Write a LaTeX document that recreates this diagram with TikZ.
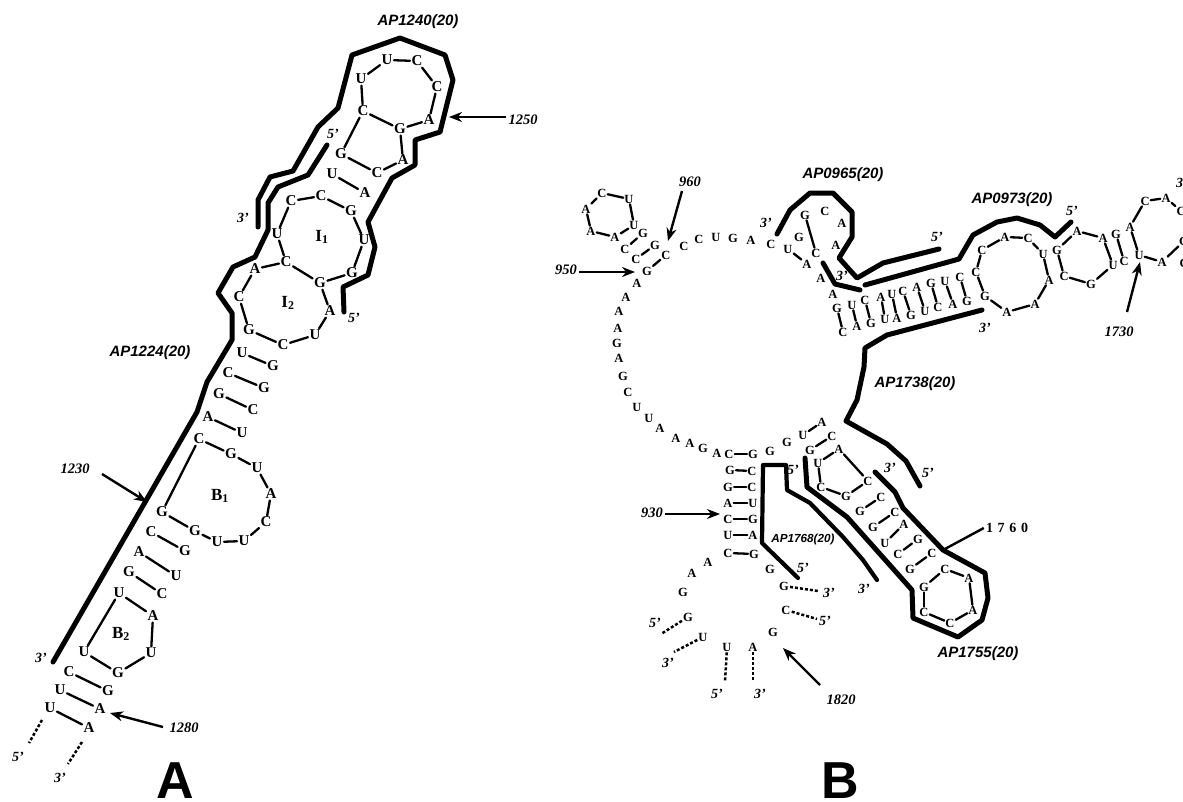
\documentclass[tikz,border=0pt]{standalone}
\usepackage{fontspec}
\setmainfont{Liberation Serif}
\setsansfont{Liberation Sans}
\usetikzlibrary{arrows.meta}
\tikzset{
 nta/.style={font=\fontsize{15}{15}\selectfont\bfseries,inner sep=1.6pt,outer sep=0pt},
 ntb/.style={font=\fontsize{12.5}{12.5}\selectfont\bfseries,inner sep=1.2pt,outer sep=0pt},
 bond/.style={line width=2.3pt,line cap=round},
 probe/.style={line width=5pt,line join=round,line cap=round},
 pointer/.style={line width=2.4pt,-{Stealth[length=13pt,width=10pt]}},
 tail/.style={line width=2.5pt,dash pattern=on 3pt off 2pt},
 prime/.style={font=\fontsize{14}{14}\selectfont\bfseries\itshape,inner sep=0pt},
 num/.style={font=\fontsize{14.5}{14.5}\selectfont\bfseries\itshape,inner sep=2pt},
 aplabel/.style={font=\sffamily\fontsize{15}{15}\selectfont\bfseries\itshape,inner sep=0pt},
 region/.style={font=\fontsize{17}{17}\selectfont\bfseries,inner sep=0pt},
 big/.style={font=\sffamily\fontsize{52}{52}\selectfont\bfseries,inner sep=0pt}
}
\def\NA#1#2#3#4{\node[nta] (#1) at (#2,#3) {#4};}
\def\NB#1#2#3#4{\node[ntb] (#1) at (#2,#3) {#4};}
\begin{document}
\begin{tikzpicture}[x=1pt,y=-1pt]
\useasboundingbox (0,0) rectangle (1183,801);
% ---------- Panel A letters
\NA{a1}{361}{79}{U}\NA{a2}{387}{60}{U}\NA{a3}{417}{61}{C}\NA{a4}{437}{87}{C}\NA{a5}{429}{120}{A}\NA{a6}{400}{129}{G}\NA{a7}{363}{111}{C}
\NA{a8}{341}{154}{G}\NA{a9}{377}{173}{C}\NA{a10}{403}{160}{A}\NA{a11}{332}{174}{U}\NA{a12}{365}{193}{A}
\NA{a13}{291}{201}{C}\NA{a14}{321}{196}{C}\NA{a15}{351}{211}{G}\NA{a16}{364}{240}{U}\NA{a17}{352}{273}{G}\NA{a18}{320}{283}{G}\NA{a19}{286}{262}{C}\NA{a20}{277}{234}{U}
\NA{a21}{255}{269}{A}\NA{a22}{239}{297}{C}\NA{a23}{249}{330}{G}\NA{a24}{283}{345}{C}\NA{a25}{315}{335}{U}\NA{a26}{330}{311}{A}
\NA{a27}{242}{353}{U}\NA{a28}{273}{366}{G}\NA{a29}{228}{373}{C}\NA{a30}{264}{388}{G}\NA{a31}{219}{394}{G}\NA{a32}{253}{410}{C}\NA{a33}{208}{417}{A}\NA{a34}{242}{433}{U}
\NA{a35}{199}{439}{C}\NA{a36}{231}{454}{G}\NA{a37}{257}{468}{U}\NA{a38}{271}{494}{A}\NA{a39}{266}{522}{C}\NA{a40}{244}{541}{U}\NA{a41}{217}{542}{U}\NA{a42}{195}{531}{G}\NA{a43}{162}{512}{G}
\NA{a44}{151}{532}{C}\NA{a45}{185}{551}{G}\NA{a46}{139}{552}{A}\NA{a47}{176}{576}{U}\NA{a48}{129}{572}{G}\NA{a49}{162}{594}{C}\NA{a50}{119}{593}{U}\NA{a51}{153}{616}{A}
\NA{a52}{151}{653}{U}\NA{a53}{118}{673}{G}\NA{a54}{84}{652}{U}\NA{a55}{69}{672}{C}\NA{a56}{108}{691}{G}\NA{a57}{60}{690}{U}\NA{a58}{100}{709}{A}\NA{a59}{50}{708}{U}\NA{a60}{89}{728}{A}
\foreach \p/\q in {a1/a2,a2/a3,a3/a4,a4/a5,a5/a6,a6/a7,a7/a1,a6/a10,a10/a9,a9/a8,a8/a7,a11/a12,a13/a14,a14/a15,a15/a16,a16/a17,a17/a18,a18/a19,a19/a20,a20/a13,a19/a21,a21/a22,a22/a23,a23/a24,a24/a25,a25/a26,a26/a18,a27/a28,a29/a30,a31/a32,a33/a34,a35/a36,a36/a37,a37/a38,a38/a39,a39/a40,a40/a41,a41/a42,a42/a43,a43/a35,a44/a45,a46/a47,a48/a49,a50/a51,a51/a52,a52/a53,a53/a54,a54/a50,a55/a56,a57/a58,a59/a60}
 \draw[bond] (\p) -- (\q);
% Panel A regions and labels
\node[region] (i1) at (322,237) {I\textsubscript{1}};
\node[region] (i2) at (288,303) {I\textsubscript{2}};
\node[region] (b1) at (220,496) {B\textsubscript{1}};
\node[region] (b2) at (121,634) {B\textsubscript{2}};
\node[aplabel] (lap1240) at (418,22) {AP1240(20)};
\node[aplabel] (lap1224) at (150,353) {AP1224(20)};
\node[prime] (pa1) at (243,218) {3'};
\node[prime] (pa2) at (333,134) {5'};
\node[prime] (pa3) at (354,318) {5'};
\node[prime] (pa4) at (41,658) {3'};
\node[prime] (pa5) at (18,757) {5'};
\node[prime] (pa6) at (60,778) {3'};
% Panel A probes
\draw[probe] (258,227)--(258,200)--(270,177)--(293,171)--(318,127)--(338,108)--(352,55)--(400,38)--(445,55)--(453,80)--(440,132)--(415,140)--(415,165)--(392,178)--(368,222)--(375,247)--(368,275)--(343,287)--(344,312);
\draw[probe] (327,145)--(308,175)--(278,187)--(268,203)--(268,230)--(255,257)--(233,267)--(218,293)--(232,313)--(232,340)--(207,382)--(197,412)--(53,662);
% Panel A arrows
\node[num] (n1250) at (523,120) {1250};
\coordinate (t1250) at (449,117);
\draw[pointer] (n1250.west |- t1250) -- (t1250);
\node[num] (n1230) at (75,469) {1230};
\coordinate (s1230) at (102,474);\coordinate (t1230) at (147,502);
\draw[pointer] (s1230) -- (t1230);
\node[num] (n1280) at (184,728) {1280};
\coordinate (s1280) at (163,727);\coordinate (t1280) at (110,713);
\draw[pointer] (s1280) -- (t1280);
\coordinate (ta1) at (29,743);\coordinate (ta2) at (68,764);
\draw[tail] (a59) ++(-8,12) -- (ta1);
\draw[tail] (a60) ++(-7,14) -- (ta2);
\node[big] (bigA) at (175.5,780.5) {A};
% ---------- Panel B letters
\NB{h1}{602}{193}{C}\NB{h2}{629}{199}{U}\NB{h3}{634}{225}{U}\NB{h4}{615}{237}{A}\NB{h5}{591}{231}{A}\NB{h6}{586}{209}{A}
\NB{h7}{643}{233}{G}\NB{h8}{625}{249}{C}\NB{h9}{655}{245}{G}\NB{h10}{636}{259}{C}\NB{h11}{666}{255}{C}\NB{h12}{647}{271}{G}
\NB{r1}{637}{283}{A}\NB{r2}{626}{297}{A}\NB{r3}{619}{311}{A}\NB{r4}{618}{328}{A}\NB{r5}{617}{343}{G}\NB{r6}{619}{358}{A}\NB{r7}{623}{376}{G}\NB{r8}{628}{392}{C}\NB{r9}{637}{407}{U}\NB{r10}{649}{418}{U}\NB{r11}{660}{428}{A}\NB{r12}{676}{438}{A}\NB{r13}{690}{443}{A}\NB{r14}{703}{448}{G}\NB{r15}{717}{453}{A}
\NB{t1}{684}{246}{C}\NB{t2}{699}{239}{C}\NB{t3}{716}{237}{U}\NB{t4}{733}{238}{G}\NB{t5}{751}{240}{A}\NB{t6}{771}{244}{C}
\NB{t7}{788}{249}{U}\NB{t8}{807}{264}{A}\NB{t9}{799}{237}{G}\NB{t10}{816}{253}{C}\NB{t11}{821}{278}{A}\NB{t12}{833}{294}{A}
\NB{u1}{805}{215}{G}\NB{u2}{825}{211}{C}\NB{u3}{842}{223}{A}\NB{u4}{836}{245}{A}
% helix
\NB{ht1}{837}{308}{G}\NB{ht2}{852}{305}{U}\NB{ht3}{865}{300}{C}\NB{ht4}{881}{297}{A}\NB{ht5}{892}{294}{U}\NB{ht6}{903}{291}{C}\NB{ht7}{917}{287}{A}\NB{ht8}{931}{283}{G}\NB{ht9}{945}{281}{U}\NB{ht10}{960}{277}{C}
\NB{hb1}{843}{332}{C}\NB{hb2}{857}{326}{A}\NB{hb3}{871}{323}{G}\NB{hb4}{885}{319}{U}\NB{hb5}{897}{318}{A}\NB{hb6}{911}{315}{G}\NB{hb7}{925}{311}{U}\NB{hb8}{938}{307}{C}\NB{hb9}{953}{304}{A}\NB{hb10}{967}{301}{G}
% loop right
\NB{l1}{976}{272}{C}\NB{l2}{982}{250}{C}\NB{l3}{1005}{237}{A}\NB{l4}{1028}{238}{C}\NB{l5}{1043}{254}{U}\NB{l6}{1049}{280}{A}\NB{l7}{1035}{304}{A}\NB{l8}{1007}{312}{A}\NB{l9}{985}{296}{G}
\NB{m1}{1057}{250}{G}\NB{m2}{1077}{231}{A}\NB{m3}{1103}{238}{A}\NB{m4}{1113}{265}{U}\NB{m5}{1091}{284}{G}\NB{m6}{1064}{276}{C}
\NB{m7}{1116}{234}{G}\NB{m8}{1124}{261}{C}\NB{m9}{1130}{227}{A}\NB{m10}{1139}{255}{U}\NB{m11}{1145}{201}{C}\NB{m12}{1166}{198}{A}\NB{m13}{1181}{211}{C}\NB{m14}{1162}{262}{A}\NB{m15}{1184}{241}{G}\NB{m16}{1184}{263}{C}
% lower right arm
\NB{c1}{803}{435}{U}\NB{c2}{822}{422}{A}\NB{c3}{832}{436}{C}\NB{c4}{810}{450}{G}\NB{c5}{839}{449}{A}\NB{c6}{868}{481}{C}\NB{c7}{818}{463}{U}\NB{c8}{821}{487}{C}\NB{c9}{846}{496}{G}
\NB{c10}{881}{497}{C}\NB{c11}{860}{511}{G}\NB{c12}{895}{512}{C}\NB{c13}{873}{527}{G}\NB{c14}{904}{524}{A}\NB{c15}{885}{543}{U}\NB{c16}{918}{539}{G}\NB{c17}{898}{554}{C}\NB{c18}{932}{553}{C}\NB{c19}{910}{569}{G}
\NB{c20}{945}{569}{C}\NB{c21}{969}{578}{A}\NB{c22}{973}{610}{A}\NB{c23}{950}{623}{C}\NB{c24}{924}{612}{C}\NB{c25}{924}{587}{G}
% stem
\NB{s1}{729}{454}{C}\NB{s2}{753}{454}{G}\NB{s3}{730}{470}{G}\NB{s4}{752}{471}{C}\NB{s5}{728}{487}{G}\NB{s6}{752}{487}{C}\NB{s7}{728}{503}{A}\NB{s8}{753}{503}{U}\NB{s9}{728}{519}{C}\NB{s10}{753}{519}{G}\NB{s11}{728}{535}{U}\NB{s12}{753}{535}{A}\NB{s13}{728}{553}{C}\NB{s14}{754}{554}{G}
\NB{g1}{770}{451}{G}\NB{g2}{787}{442}{G}
\NB{e1}{708}{562}{A}\NB{e2}{692}{573}{A}\NB{e3}{683}{592}{G}\NB{e4}{688}{617}{G}\NB{e5}{703}{637}{U}\NB{e6}{727}{647}{U}\NB{e7}{753}{647}{A}\NB{e8}{773}{632}{G}\NB{e9}{786}{610}{C}\NB{e10}{784}{586}{G}\NB{e11}{770}{569}{G}
\foreach \p/\q in {h1/h2,h2/h3,h3/h4,h4/h5,h5/h6,h6/h1,h7/h8,h9/h10,h11/h12,t7/t8,u1/t10,ht1/hb1,ht2/hb2,ht3/hb3,ht4/hb4,ht5/hb5,ht6/hb6,ht7/hb7,ht8/hb8,ht9/hb9,ht10/hb10,l1/l2,l2/l3,l3/l4,l4/l5,l5/l6,l6/l7,l7/l8,l8/l9,l9/l1,m1/m2,m2/m3,m3/m4,m4/m5,m5/m6,m6/m1,m7/m8,m9/m10,m9/m11,m11/m12,m12/m13,m10/m14,m14/m15,c1/c2,c4/c3,c5/c6,c5/c7,c7/c8,c8/c9,c9/c6,c11/c10,c13/c12,c15/c14,c17/c16,c19/c18,c25/c20,c20/c21,c21/c22,c22/c23,c23/c24,c24/c25,s1/s2,s3/s4,s5/s6,s7/s8,s9/s10,s11/s12,s13/s14}
 \draw[bond] (\p) -- (\q);
% Panel B probes
\draw[probe] (777,234)--(790,210)--(810,193)--(833,193)--(852,212)--(852,237)--(839,258)--(857,278)--(883,263)--(939,249);
\draw[probe] (823,263)--(835,284)--(860,290);
\draw[probe] (865,285)--(959,259)--(973,235)--(997,222)--(1017,218)--(1040,225)--(1055,237)--(1071,222);
\draw[probe] (982,310)--(887,335)--(865,348)--(864,367)--(857,400)--(846,421)--(887,444)--(906,461)--(920,486);
\draw[probe] (875,472)--(895,492)--(903,508)--(943,550)--(985,573)--(988,598)--(982,620)--(958,637)--(913,618)--(912,590)--(847,517)--(807,487)--(805,458);
\draw[probe,line width=4.2pt] (798,578)--(762,543)--(763,465)--(786,465)--(787,490)--(810,503)--(843,537)--(863,560)--(877,580);
% Panel B labels
\node[aplabel] (lap0965) at (843,175) {AP0965(20)};
\node[aplabel] (lap0973) at (1012,200) {AP0973(20)};
\node[aplabel] (lap1738) at (915,384) {AP1738(20)};
\node[aplabel] (lap1755) at (978,654) {AP1755(20)};
\node[aplabel,font=\sffamily\fontsize{11.7}{11.7}\selectfont\bfseries\itshape] (lap1768) at (803,539) {AP1768(20)};
\foreach \nm/\xx/\yy/\tx in {q1/766/223/3',q2/842/276/3',q3/937/237/5',q4/985/328/3',q5/1072/211/5',q6/1182/183/3',q7/793/470/5',q8/803/568/5',q9/829/593/3',q10/825/621/5',q11/864/589/3',q12/890/468/3',q13/928/473/5',q14/655/623/5',q15/668/663/3',q16/717/694/5',q17/760/694/3'}
 \node[prime] (\nm) at (\xx,\yy) {\tx};
% Panel B arrows
\node[num] (n960) at (690,182) {960};
\coordinate (s960) at (682,191);\coordinate (t960) at (668,241);
\draw[pointer] (s960) -- (t960);
\node[num] (n950) at (566,270) {950};
\coordinate (t950) at (635,272);
\draw[pointer] (n950.east |- t950) -- (t950);
\node[num] (n930) at (652,513) {930};
\coordinate (t930) at (720,514);
\draw[pointer] (n930.east |- t930) -- (t930);
\node[num] (n1730) at (1119,332) {1730};
\coordinate (s1730) at (1127,312);\coordinate (t1730) at (1140,262);
\draw[pointer] (s1730) -- (t1730);
\node[num] (n1820) at (841,700) {1820};
\coordinate (s1820) at (820,685);\coordinate (t1820) at (783,648);
\draw[pointer] (s1820) -- (t1820);
\node[font=\fontsize{14}{14}\selectfont\bfseries,inner sep=2pt] (n1760) at (1007,528) {1\,\,7\,\,6\,\,0};
\coordinate (t1760) at (943,550);
\draw[line width=2.4pt] (n1760.west) -- (t1760);
% dashed tails
\coordinate (d1) at (818,591);\coordinate (d2) at (817,619);\coordinate (d3) at (661,634);\coordinate (d4) at (674,652);\coordinate (d5) at (725,682);\coordinate (d6) at (753,682);
\draw[tail] (e10) -- (d1);
\draw[tail] (e9) -- (d2);
\draw[tail] (e4) -- (d3);
\draw[tail] (e5) -- (d4);
\draw[tail] (e6) -- (d5);
\draw[tail] (e7) -- (d6);
\node[big] (bigB) at (840,781) {B};
\end{tikzpicture}
\end{document}
